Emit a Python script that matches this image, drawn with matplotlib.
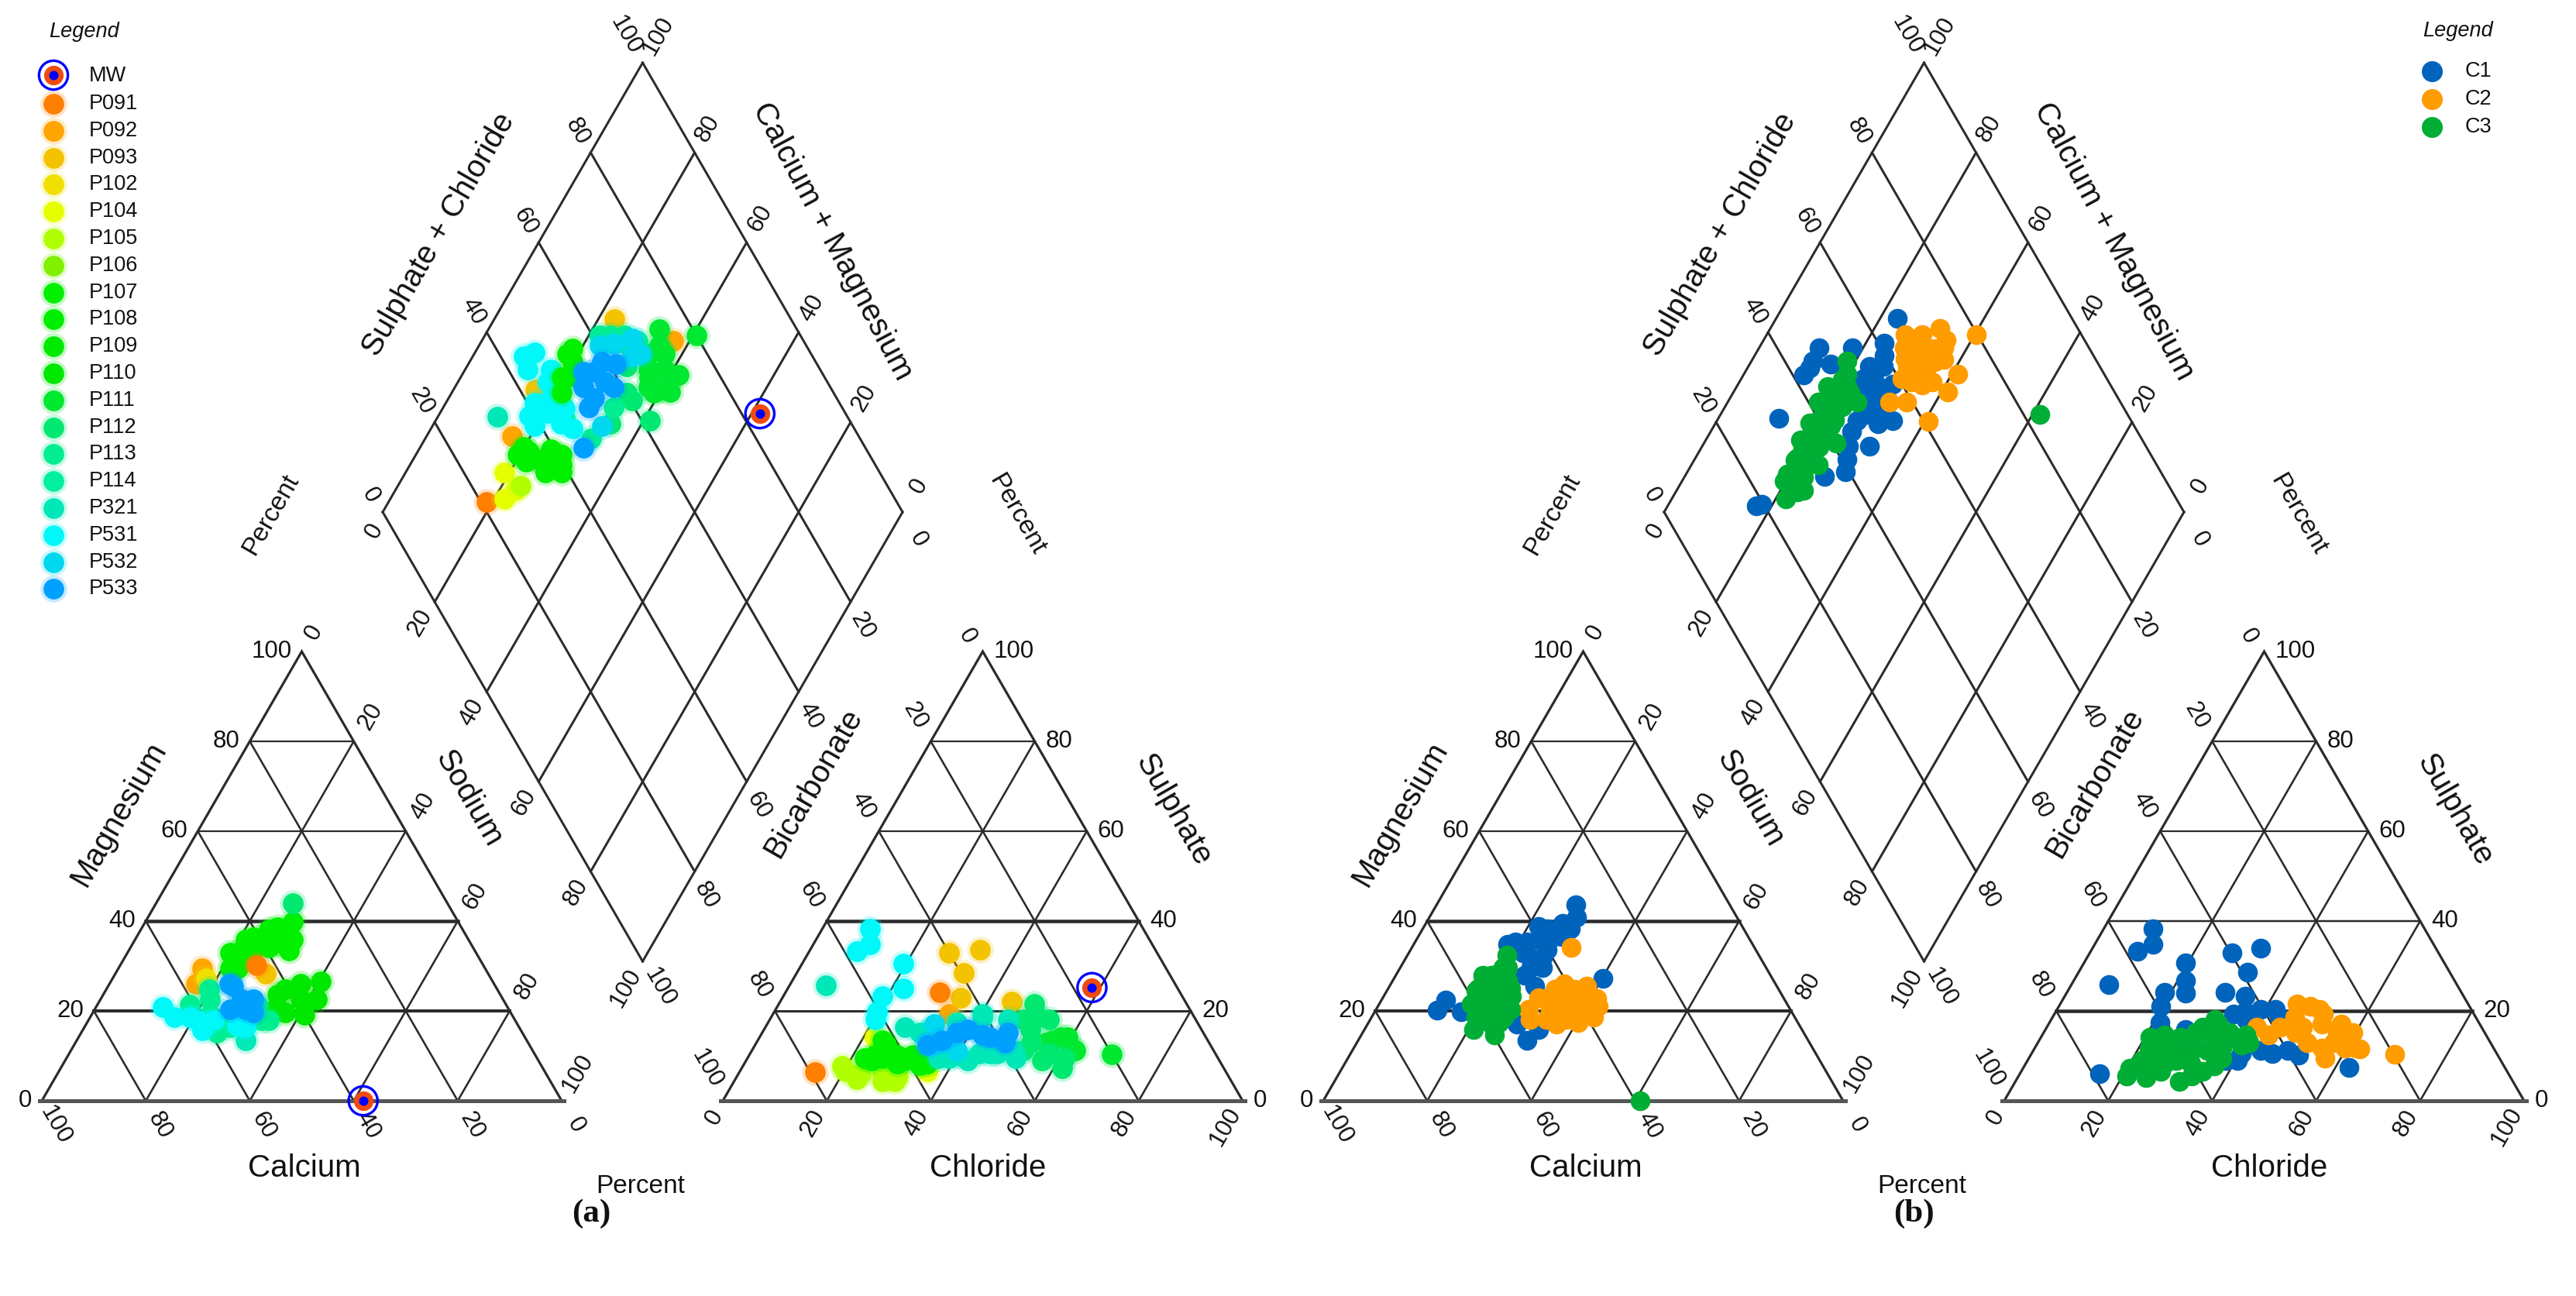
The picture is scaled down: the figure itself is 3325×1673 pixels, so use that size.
import numpy as np
import matplotlib
matplotlib.use("Agg")
import matplotlib.pyplot as plt

plt.rcParams["font.family"] = ["Liberation Sans", "DejaVu Sans"]

# axis ticks shared by all the Piper plots
ticks = [0, 20, 40, 60, 80, 100]
tick_labels = ["0", "20", "40", "60", "80", "100"]

# Panel a legend
stations = ["P091", "P092", "P093", "P102", "P104", "P105", "P106", "P107", "P108", "P109",
            "P110", "P111", "P112", "P113", "P114", "P321", "P531", "P532", "P533"]
station_colors = ["#ff8000", "#ffa500", "#f3c300", "#f0e000", "#e6ff00", "#b0ff00", "#80f000",
                  "#00f000", "#00ee00", "#00ea00", "#00e800", "#00e830", "#00e870", "#00ee90",
                  "#00f0a0", "#00e8b8", "#00f8f8", "#00d8f0", "#00a0ff"]
mw_color = "#f04a10"

# Panel a, per station, in drawing order: (Sulphate + Chloride, Calcium + Magnesium)
a_diamond = {
    "P091": ([21.1], [81.1]),
    "P092": ([33.4, 74.9], [83.5, 63.2]),
    "P093": ([66.1, 43.0], [76.9, 84.2]),
    "P104": ([27.8, 27.9, 24.9], [81.0, 76.9, 78.1]),
    "P105": ([29.5], [76.4]),
    "P111": ([73.6, 71.7, 67.0, 70.2, 72.2, 65.0, 67.4, 80.0, 68.8, 71.9, 70.1, 66.2, 65.5, 68.7],
             [67.1, 65.3, 64.7, 61.6, 58.4, 62.8, 59.8, 59.3, 66.4, 63.3, 59.4, 63.8, 61.1, 58.0]),
    "P112": ([61.6, 60.5, 53.7, 65.7, 63.2, 60.3], [58.7, 64.4, 66.0, 71.8, 69.2, 66.3]),
    "P113": ([63.5, 68.1, 48.3, 45.4, 56.0, 61.4, 66.1], [75.8, 70.0, 68.0, 75.5, 67.2, 77.9, 73.2]),
    "P321": ([32.7], [88.5]),
    "P531": ([46.9, 43.8, 48.2, 41.2, 46.6, 38.7, 44.2, 46.2, 45.0, 41.3, 38.8, 42.8, 46.5, 45.8, 44.4],
             [88.6, 88.0, 83.6, 80.8, 78.8, 80.4, 75.5, 82.7, 80.4, 83.0, 82.6, 79.3, 76.6, 72.8, 90.3]),
    "P107": ([34.8, 36.5, 39.7, 39.3, 33.2, 35.7, 40.8, 54.7, 53.2, 34.3, 36.0, 39.7, 32.4, 38.8,
              51.6, 49.4, 47.7, 53.0],
             [78.6, 74.0, 70.8, 74.7, 78.0, 73.1, 72.0, 81.7, 80.2, 80.2, 75.6, 73.0, 80.4, 70.0,
              78.5, 80.6, 78.9, 82.1]),
    "P532": ([67.3, 63.1, 65.3, 51.8, 60.3, 67.2], [71.3, 74.4, 69.3, 67.3, 76.7, 68.0]),
    "P533": ([45.8, 56.3, 61.3, 53.4, 58.2, 51.2, 52.5, 59.0, 54.2, 57.2],
             [68.5, 74.9, 71.6, 72.0, 69.5, 72.0, 75.3, 74.5, 77.0, 71.7]),
}
# Panel a, per station, in drawing order: (Calcium, Magnesium)
a_cation = {
    "P092": ([54.4, 57.3], [29.5, 26.0]),
    "P102": ([54.8], [27.2]),
    "P107": ([31.8, 33.8, 37.3, 42.9, 47.3, 39.3, 35.7, 49.0, 45.9, 41.1, 35.4, 44.3, 37.2, 47.6, 41.6],
             [39.8, 35.8, 38.1, 35.8, 32.9, 34.1, 33.5, 29.5, 32.9, 36.4, 38.7, 32.9, 35.2, 29.5, 34.1]),
    "P110": ([40.8, 33.1, 35.8, 39.9, 43.3, 42.9, 38.9, 37.2, 44.4],
             [24.9, 26.6, 22.6, 19.1, 19.7, 23.7, 22.6, 26.0, 20.9]),
    "P112": ([29.8], [43.9]),
    "P113": ([47.3, 56.4, 58.7, 55.7, 60.8, 58.1, 55.6, 48.8, 47.9, 55.3],
             [18.0, 22.6, 15.1, 16.3, 21.4, 19.1, 18.0, 18.0, 21.4, 24.9]),
    "P321": ([54.1], [13.4]),
    "P531": ([66.3, 62.2, 61.3, 57.9, 52.7, 65.2, 61.0, 54.0], [20.9, 18.6, 15.7, 18.0, 16.3, 18.6, 18.0, 16.8]),
    "P533": ([50.3, 50.7, 50.4, 48.0, 50.9, 49.4, 53.7], [22.6, 20.3, 25.5, 22.6, 26.0, 19.7, 20.3]),
    "P093": ([42.8], [28.3]),
    "P091": ([43.6], [30.1]),
}
# Panel a, per station, in drawing order: (Chloride, Sulphate)
a_anion = {
    "P092": ([33.9], [19.3]),
    "P093": ([27.1, 32.7, 32.1, 34.2, 44.6], [32.9, 33.6, 28.4, 23.0, 22.1]),
    "P091": ([14.6, 29.7], [6.3, 24.1]),
    "P104": ([22.2, 36.0], [14.1, 6.6]),
    "P105": ([20.3, 23.5, 31.0, 27.7, 23.4, 28.6, 19.0, 30.9], [6.6, 6.0, 4.3, 6.0, 4.9, 4.3, 7.8, 5.5]),
    "P107": ([24.2, 28.5, 24.1, 29.4, 33.9, 25.3, 31.4, 26.0, 22.5, 24.0, 30.6, 35.2],
             [10.1, 10.1, 8.9, 8.3, 8.0, 12.4, 10.1, 9.5, 9.5, 13.5, 8.9, 8.3]),
    "P111": ([69.6, 61.1, 57.9, 55.7, 62.2, 56.8, 59.3], [10.3, 11.8, 14.1, 12.9, 11.2, 13.5, 14.1]),
    "P112": ([51.3, 49.1, 52.2, 56.9, 61.7, 53.7, 48.7, 51.3, 52.8, 57.5, 60.9],
             [15.8, 21.6, 11.2, 8.9, 7.2, 18.1, 18.1, 18.7, 12.9, 10.6, 9.5]),
    "P321": ([6.9, 26.8, 32.1, 38.8, 42.6, 46.1, 51.6, 40.3, 30.3, 36.7, 40.0, 44.0, 47.5, 50.1, 36.2, 40.6, 45.8],
             [25.7, 16.4, 15.8, 9.5, 8.9, 10.6, 9.5, 19.3, 15.2, 9.5, 10.1, 10.6, 10.6, 11.2, 17.5, 18.7, 18.1]),
    "P531": ([9.2, 10.9, 9.1, 19.4, 22.2, 19.1, 19.8, 20.3],
             [38.2, 34.8, 33.3, 30.5, 25.0, 23.3, 19.8, 18.1]),
    "P532": ([32.9, 32.2, 34.5, 39.4], [12.9, 17.0, 12.4, 11.2]),
    "P533": ([33.1, 37.4, 42.6, 47.3, 35.4, 39.2, 44.4, 47.8],
             [12.4, 15.2, 14.7, 15.2, 13.5, 15.8, 14.1, 12.9]),
}
# the single MW sample, ring + dot
mw_ca, mw_mg = 38.2, 0.0
mw_cl, mw_so4 = 58.4, 25.2
mw_sc, mw_cm = 83.5, 38.4

# Panel b legend
clusters = ["C1", "C2", "C3"]
cluster_colors = ["#0064bd", "#ff9c00", "#00ae35"]

# Panel b, diamond: Sulphate + Chloride, Calcium + Magnesium
c1_sc = [19.7, 18.4, 34.9, 39.3, 41.0, 46.8, 45.0, 51.0, 54.2, 32.5, 52.5, 58.2,
         55.0, 55.7, 58.5, 61.1, 66.4, 54.5, 48.0, 45.4, 48.5, 42.1, 49.1,
         53.1, 55.1, 51.7, 50.2, 53.0, 47.3, 42.8, 44.0, 59.7]
c1_cm = [82.0, 83.0, 73.1, 69.6, 70.7, 67.9, 73.0, 68.7, 66.2, 88.3, 72.5, 70.2,
         74.0, 76.8, 74.0, 76.5, 76.7, 82.0, 88.5, 88.2, 84.5, 88.4, 72.5,
         76.5, 71.6, 75.0, 72.5, 69.7, 73.0, 71.9, 88.0, 75.1]
c2_sc = [60.9, 55.6, 58.8, 67.9, 71.9, 63.8, 62.0, 66.0, 63.1, 66.2, 70.7, 64.5,
         68.0, 73.4, 66.0, 69.4, 73.5, 79.7, 66.2, 70.2, 65.1, 68.8, 72.0, 63.9, 63.4, 66.8, 60.5]
c2_cm = [59.2, 68.8, 65.6, 58.8, 58.8, 64.4, 67.0, 63.0, 69.4, 65.6, 63.2, 72.0,
         68.5, 64.8, 73.4, 70.0, 67.3, 59.7, 70.2, 66.2, 69.1, 64.7, 64.5, 66.8, 70.8, 67.4, 69.1]
c3_sc = [24.9, 27.9, 26.6, 30.7, 29.9, 35.0, 31.7, 34.3, 40.8, 37.0, 37.9, 41.6, 41.9,
         49.3, 45.6, 45.4, 49.1, 50.5, 52.0, 83.2, 38.2, 42.2, 34.2, 45.9, 29.3,
         28.0, 31.0, 34.0, 37.0, 40.0, 43.0, 46.0, 49.0, 28.0, 31.0, 34.0, 37.0, 40.0, 43.0, 46.0, 49.0]
c3_cm = [78.0, 76.5, 80.3, 77.0, 79.6, 75.6, 80.3, 81.8, 74.5, 77.6, 81.9, 77.6, 82.5,
         75.1, 78.2, 82.5, 78.8, 80.2, 81.6, 38.6, 79.9, 79.4, 78.2, 80.8, 75.6,
         80.5, 80.5, 80.5, 80.5, 80.5, 80.5, 80.5, 80.5, 77.5, 77.5, 77.5, 77.5, 77.5, 77.5, 77.5, 77.5]

# Panel b, cation triangle: Calcium, Magnesium
c1_ca = [29.5, 30.9, 34.3, 39.2, 33.4, 37.3, 47.2, 43.1, 40.2, 44.2, 43.0, 47.3, 46.5,
         32.6, 65.2, 68.0, 63.5, 54.0, 54.2, 50.7, 37.9, 40.6, 35.8, 45.1, 41.9, 45.3, 45.4]
c1_mg = [43.7, 40.8, 39.4, 38.8, 38.2, 36.5, 34.8, 35.3, 33.6, 31.9, 29.6, 27.9, 25.6,
         27.3, 22.4, 20.1, 19.8, 13.5, 17.0, 15.8, 38.2, 35.9, 36.5, 33.0, 31.9, 29.6, 35.3]
c2_ca = [35.3, 40.6, 36.6, 47.1, 42.4, 36.1, 50.3, 46.1, 41.2, 36.6, 51.1, 46.6, 42.2, 38.6,
         45.6, 39.4, 44.0, 39.4, 48.0, 44.2, 38.6, 39.2, 43.0]
c2_mg = [34.1, 26.1, 25.6, 23.0, 23.3, 22.7, 20.4, 20.4, 21.0, 21.0, 18.1, 17.0, 17.5, 18.7,
         22.7, 23.3, 19.9, 19.9, 18.1, 18.1, 21.6, 24.9, 24.9]
c3_ca = [39.0, 48.4, 50.6, 55.3, 51.2, 58.5, 52.2, 59.6, 55.7, 53.7, 61.0, 57.4, 63.2, 59.7, 55.2,
         56.9, 60.7, 58.4, 56.0, 59.2, 54.2, 61.3, 53.7, 52.0, 57.7, 51.4, 49.8]
c3_mg = [0.0, 32.5, 29.6, 27.9, 26.7, 24.4, 23.3, 21.6, 21.0, 20.4, 18.1, 17.5, 15.8, 14.7, 25.0,
         22.9, 21.6, 19.9, 18.7, 17.0, 23.9, 18.7, 27.9, 28.4, 25.0, 25.0, 29.6]

# Panel b, anion triangle: Chloride, Sulphate
c1_cl = [15.3, 7.2, 9.5, 11.2, 9.0, 19.5, 21.5, 22.9, 18.8, 19.6, 21.2, 27.3, 32.4, 32.4,
         30.4, 34.7, 34.5, 38.5, 42.0, 27.0, 40.4, 46.2, 51.6, 62.6, 36.5, 39.1, 37.4, 40.3, 43.7, 48.9, 38.2, 43.6]
c1_so4 = [6.0, 25.9, 38.2, 34.8, 33.3, 30.7, 26.7, 23.9, 24.1, 21.0, 17.5, 32.9, 33.9, 28.7,
          24.1, 23.3, 19.3, 18.7, 20.4, 15.8, 8.9, 10.6, 10.1, 7.5, 19.8, 20.4, 18.1, 10.6, 11.2, 11.2, 8.9, 18.7]
c2_cl = [70.0, 45.5, 50.5, 40.4, 44.8, 49.2, 52.6, 56.3, 59.4, 51.8, 57.0, 56.9, 62.7, 59.6, 51.8,
         43.5, 46.6, 48.4, 48.4, 56.5, 55.2, 58.4, 61.8]
c2_so4 = [10.3, 21.6, 20.4, 16.4, 16.4, 16.4, 17.0, 17.0, 15.2, 12.9, 9.5, 12.9, 11.5, 11.8, 19.3,
          14.7, 18.7, 15.2, 21.0, 15.2, 11.8, 14.1, 11.8]
c3_cl = [20.8, 24.6, 31.6, 22.0, 26.7, 31.8, 36.5, 22.0, 27.9, 33.4, 39.4, 23.5, 29.2, 32.7, 35.5,
         26.8, 33.3, 20.6, 24.2, 28.6, 34.9, 37.2, 24.9, 30.9, 36.0, 40.7, 20.9, 26.8, 32.3, 35.8, 39.1, 30.0, 31.5]
c3_so4 = [5.5, 5.2, 4.3, 8.9, 8.3, 8.3, 7.8, 11.8, 11.8, 11.2, 12.4, 14.7, 15.2, 17.0, 14.1,
          6.6, 5.5, 7.2, 8.9, 8.9, 6.6, 9.5, 11.8, 11.8, 11.8, 12.9, 14.1, 14.1, 14.7, 15.2, 14.7, 16.4, 18.1]

# layout, in reference pixels
WIDTH, HEIGHT = 3325, 1673
PANEL_B_SHIFT = 1654
CAT_LEFT, AN_LEFT, DIA_LEFT = 54, 933, 494
TRI_W, TRI_H = 671, 580
BASE_Y, DIA_Y = 1421, 661
LINE = "#2b2b2b"
px = 72 / 100  # one pixel in points at dpi 100


def cation_xy(ca, mg, shift=0):
    ca = np.asarray(ca, dtype=float)
    mg = np.asarray(mg, dtype=float)
    return shift + CAT_LEFT + TRI_W * (100 - ca - mg / 2) / 100, BASE_Y - TRI_H * mg / 100


def anion_xy(cl, so4, shift=0):
    cl = np.asarray(cl, dtype=float)
    so4 = np.asarray(so4, dtype=float)
    return shift + AN_LEFT + TRI_W * (cl + so4 / 2) / 100, BASE_Y - TRI_H * so4 / 100


def diamond_xy(sc, cm, shift=0):
    sc = np.asarray(sc, dtype=float)
    cm = np.asarray(cm, dtype=float)
    b = 100 - cm
    return shift + DIA_LEFT + TRI_W / 2 * (sc + b) / 100, DIA_Y - TRI_H * (sc - b) / 100


def draw_triangle(ax, left, thick):
    right = left + TRI_W
    # sloped grid
    for p in ticks[1:-1]:
        bx = left + TRI_W * p / 100
        ax.plot([bx, bx - TRI_W * p / 200], [BASE_Y, BASE_Y - TRI_H * p / 100],
                color=LINE, lw=2.6 * px, solid_capstyle="round", zorder=1)
        ax.plot([bx, bx + TRI_W * (100 - p) / 200], [BASE_Y, BASE_Y - TRI_H * (100 - p) / 100],
                color=LINE, lw=2.6 * px, solid_capstyle="round", zorder=1)
    # horizontal lines, some are heavier in the source
    for p in ticks[1:-1]:
        y = BASE_Y - TRI_H * p / 100
        ax.plot([left + TRI_W * p / 200, right - TRI_W * p / 200], [y, y], color=LINE,
                lw=thick.get(p, 2.2) * px, zorder=1)
    ax.plot([left, left + TRI_W / 2, right], [BASE_Y, BASE_Y - TRI_H, BASE_Y], color=LINE,
            lw=3.2 * px, solid_joinstyle="miter", zorder=1)
    ax.plot([left - 3, right + 3], [BASE_Y, BASE_Y], color="#555555", lw=5 * px, zorder=1)


def draw_frame(ax, shift, an_thick):
    cl = shift + CAT_LEFT
    al = shift + AN_LEFT
    dl = shift + DIA_LEFT
    draw_triangle(ax, cl, {20: 4, 40: 4.5})
    draw_triangle(ax, al, an_thick)

    # diamond grid
    for p in ticks:
        ux, uy = dl + TRI_W * p / 200, DIA_Y - TRI_H * p / 100
        lx, ly = dl + TRI_W * p / 200, DIA_Y + TRI_H * p / 100
        ax.plot([ux, ux + TRI_W / 2], [uy, uy + TRI_H], color=LINE, lw=3 * px, zorder=1)
        ax.plot([lx, lx + TRI_W / 2], [ly, ly - TRI_H], color=LINE, lw=3 * px, zorder=1)

    num = dict(fontsize=22.5, ha="center", va="center", color="#111111", rotation_mode="anchor")
    for p, lab in zip(ticks, tick_labels):
        # cation triangle
        ax.text(cl + TRI_W * p / 200 - 13, BASE_Y - TRI_H * p / 100, lab, fontsize=22.5,
                ha="right", va="center", color="#111111")
        dx, dy = {"0": (16, -25), "100": (21, -36)}.get(lab, (22, -32))
        ax.text(cl + TRI_W / 2 + TRI_W * p / 200 + dx, BASE_Y - TRI_H + TRI_H * p / 100 + dy, lab,
                rotation=60, **num)
        ax.text(cl + TRI_W - TRI_W * p / 100 + 18, BASE_Y + 32, lab, rotation=-60, **num)

        # anion triangle
        ax.text(al + TRI_W - TRI_W * p / 200 + 14, BASE_Y - TRI_H * p / 100, lab, fontsize=22.5,
                ha="left", va="center", color="#111111")
        dy = {1: -19, 2: -33, 3: -41}[len(lab)]
        ax.text(al + TRI_W / 2 - TRI_W * p / 200 - 20, BASE_Y - TRI_H + TRI_H * p / 100 + dy, lab,
                rotation=-60, **num)
        dx = {1: -11, 2: -18, 3: -22}[len(lab)]
        dy = {1: 21, 2: 29, 3: 33}[len(lab)]
        ax.text(al + TRI_W * p / 100 + dx, BASE_Y + dy, lab, rotation=60, **num)

        # diamond
        right = dl + TRI_W
        run_x, run_y = TRI_W * p / 200, TRI_H * p / 100
        dx, dy = {"0": (-16, -21), "100": (-22, -35)}.get(lab, (-17, -27))
        ax.text(dl + run_x + dx, DIA_Y - run_y + dy, lab, rotation=-60, **num)
        dx, dy = {"0": (21, -34), "100": (20, -35)}.get(lab, (17, -31))
        ax.text(right - run_x + dx, DIA_Y - run_y + dy, lab, rotation=60, **num)
        dx, dy = {"0": (-11, 24), "100": (-22, 34)}.get(lab, (-19, 27))
        ax.text(dl + run_x + dx, DIA_Y + run_y + dy, lab, rotation=60, **num)
        dx, dy = {"0": (20, 36), "100": (22, 34)}.get(lab, (15, 31))
        ax.text(right - run_x + dx, DIA_Y + run_y + dy, lab, rotation=-60, **num)

    # axis titles
    title = dict(fontsize=29, ha="center", va="center", color="#111111", rotation_mode="anchor")
    ax.text(shift + 566, 303, "Sulphate + Chloride", rotation=60, **title)
    ax.text(shift + 1075, 312, "Calcium + Magnesium", rotation=-62, **title)
    ax.text(shift + 153, 1050, "Magnesium", rotation=60, **title)
    ax.text(shift + 605, 1031, "Sodium", rotation=-60, **title)
    ax.text(shift + 1050, 1010, "Bicarbonate", rotation=60, **title)
    ax.text(shift + 1514, 1045, "Sulphate", rotation=-60, **title)
    ax.text(shift + 393, 1508, "Calcium", **title)
    ax.text(shift + 1275, 1508, "Chloride", **title)
    pct = dict(fontsize=24, ha="center", va="center", color="#111111", rotation_mode="anchor")
    ax.text(shift + 350, 664, "Percent", rotation=60, **pct)
    ax.text(shift + 1312, 664, "Percent", rotation=-60, **pct)
    ax.text(shift + 827, 1531, "Percent", **pct)


def soft_scatter(ax, x, y, color, zorder):
    # the source dots have a blurred edge
    ax.scatter(x, y, s=620, color=color, alpha=0.22, linewidths=0, zorder=zorder)
    ax.scatter(x, y, s=370, color=color, linewidths=0, zorder=zorder)


def mw_marker(ax, x, y, zorder=20):
    ax.scatter([x], [y], s=330, color=mw_color, linewidths=0, zorder=zorder)
    ax.scatter([x], [y], s=75, color="#0000ff", linewidths=0, zorder=zorder + 1)
    ax.scatter([x], [y], s=720, facecolors="none", edgecolors="#0000ff", linewidths=2.4,
               zorder=zorder + 1)


fig = plt.figure(figsize=(WIDTH / 100, HEIGHT / 100), dpi=100)
ax = fig.add_axes([0, 0, 1, 1])
ax.set_xlim(0, WIDTH)
ax.set_ylim(HEIGHT, 0)
ax.axis("off")

draw_frame(ax, 0, {20: 3, 40: 4.5})
draw_frame(ax, PANEL_B_SHIFT, {20: 4.5, 40: 2.5})

# --- panel a ---
color_of = dict(zip(stations, station_colors))
for samples, to_xy in [(a_diamond, diamond_xy), (a_cation, cation_xy), (a_anion, anion_xy)]:
    for i, (name, (v1, v2)) in enumerate(samples.items()):
        x, y = to_xy(v1, v2)
        soft_scatter(ax, x, y, color_of[name], 5 + i * 0.1)

mw_marker(ax, *cation_xy(mw_ca, mw_mg))
mw_marker(ax, *anion_xy(mw_cl, mw_so4))
mw_marker(ax, *diamond_xy(mw_sc, mw_cm))

# legend a
ax.text(109, 41, "Legend", fontsize=19.5, style="italic", ha="center", va="center", color="#111111")
mw_marker(ax, 69, 97)
ax.text(115, 98, "MW", fontsize=19.5, ha="left", va="center", color="#111111")
for i, name in enumerate(stations):
    row_y = 134 + i * 34.8
    soft_scatter(ax, [69], [row_y], station_colors[i], 5)
    ax.text(115, row_y, name, fontsize=19.5, ha="left", va="center", color="#111111")

# --- panel b ---
for color, z, v1, v2, to_xy in [
    (cluster_colors[0], 5, c1_ca, c1_mg, cation_xy),
    (cluster_colors[1], 6, c2_ca, c2_mg, cation_xy),
    (cluster_colors[2], 7, c3_ca, c3_mg, cation_xy),
    (cluster_colors[0], 5, c1_cl, c1_so4, anion_xy),
    (cluster_colors[1], 6, c2_cl, c2_so4, anion_xy),
    (cluster_colors[2], 7, c3_cl, c3_so4, anion_xy),
    (cluster_colors[0], 5, c1_sc, c1_cm, diamond_xy),
    (cluster_colors[1], 6, c2_sc, c2_cm, diamond_xy),
    (cluster_colors[2], 7, c3_sc, c3_cm, diamond_xy),
]:
    x, y = to_xy(v1, v2, PANEL_B_SHIFT)
    ax.scatter(x, y, s=340, color=color, linewidths=0, zorder=z)

# legend b
ax.text(3173, 40, "Legend", fontsize=19.5, style="italic", ha="center", va="center", color="#111111")
for i, name in enumerate(clusters):
    row_y = 92 + i * 36
    ax.scatter([3139], [row_y], s=380, color=cluster_colors[i], linewidths=0, zorder=5)
    ax.text(3182, row_y, name, fontsize=19.5, ha="left", va="center", color="#111111")

# panel letters
ax.text(763, 1567, "(a)", fontsize=31, family="Liberation Serif", weight="bold",
        ha="center", va="center", color="#111111")
ax.text(2470, 1567, "(b)", fontsize=31, family="Liberation Serif", weight="bold",
        ha="center", va="center", color="#111111")

fig.savefig("out.png", dpi=100, facecolor="white")
